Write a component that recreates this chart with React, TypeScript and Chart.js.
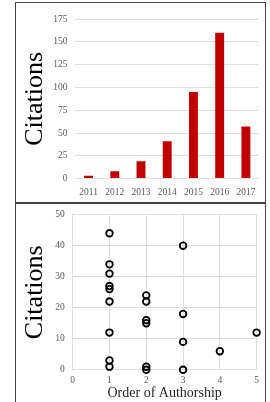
import React, { useEffect, useRef } from "react";
import { Chart, registerables } from "chart.js";

Chart.register(...registerables);

const years = ["2011", "2012", "2013", "2014", "2015", "2016", "2017"];
const citationsByYear = [3, 8, 19, 41, 95, 160, 57];

const authorOrder = [1, 1, 1, 1, 1, 1, 1, 1, 1, 2, 2, 2, 2, 2, 2, 3, 3, 3, 3, 4, 5];
const paperCitations = [44, 34, 31, 27, 26, 22, 12, 3, 1, 24, 22, 16, 15, 1, 0, 40, 18, 9, 0, 6, 12];

const serif = "'Liberation Serif', 'Times New Roman', serif";
const tickColor = "#595959";
const gridColor = "#dedede";

function BarChart() {
  const ref = useRef<HTMLCanvasElement>(null);
  useEffect(() => {
    const chart = new Chart(ref.current!, {
      type: "bar",
      data: {
        labels: years,
        datasets: [
          {
            data: citationsByYear,
            backgroundColor: "#C00000",
            categoryPercentage: 1,
            barPercentage: 0.34,
          },
        ],
      },
      options: {
        responsive: false,
        animation: false,
        layout: { padding: { top: 16, right: 5, bottom: -4, left: 0 } },
        plugins: { legend: { display: false }, tooltip: { enabled: false } },
        scales: {
          x: {
            grid: { display: false, drawTicks: false },
            border: { display: false },
            ticks: {
              color: tickColor,
              font: { family: serif, size: 9.5 },
              padding: 8,
              maxRotation: 0,
              minRotation: 0,
              autoSkip: false,
            },
          },
          y: {
            min: 0,
            max: 175,
            ticks: { stepSize: 25, color: tickColor, font: { family: serif, size: 9.5 }, padding: 8 },
            grid: { color: gridColor, drawTicks: false },
            border: { display: false },
            title: {
              display: true,
              text: "Citations",
              color: "#000",
              font: { family: serif, size: 26 },
              padding: { top: 4, bottom: -6 },
            },
          },
        },
      },
    });
    return () => chart.destroy();
  }, []);
  return (
    <canvas
      ref={ref}
      width={248}
      height={199}
      style={{ position: "absolute", left: 16, top: 3, width: 248, height: 199 }}
    />
  );
}

function ScatterChart() {
  const ref = useRef<HTMLCanvasElement>(null);
  useEffect(() => {
    const points = authorOrder.map((x, i) => ({ x, y: paperCitations[i] }));
    const chart = new Chart(ref.current!, {
      type: "scatter",
      data: {
        datasets: [
          {
            data: points,
            pointRadius: 3.3,
            pointBorderWidth: 1.8,
            pointBorderColor: "#000",
            pointBackgroundColor: "rgba(0,0,0,0)",
            clip: false,
          },
        ],
      },
      options: {
        responsive: false,
        animation: false,
        layout: { padding: { top: 0, right: 7, bottom: 0, left: 0 } },
        plugins: { legend: { display: false }, tooltip: { enabled: false } },
        scales: {
          x: {
            type: "linear",
            min: 0,
            max: 5,
            ticks: { stepSize: 1, color: tickColor, font: { family: serif, size: 9.5 }, padding: 5 },
            grid: { color: gridColor, drawTicks: false },
            border: { color: gridColor },
            title: {
              display: true,
              text: "Order of Authorship",
              color: "#262626",
              font: { family: serif, size: 14 },
              padding: { top: -6, bottom: 0 },
            },
          },
          y: {
            min: 0,
            max: 50,
            ticks: { stepSize: 10, color: tickColor, font: { family: serif, size: 9.5 }, padding: 8 },
            grid: { color: gridColor, drawTicks: false },
            border: { color: gridColor },
            title: {
              display: true,
              text: "Citations",
              color: "#000",
              font: { family: serif, size: 26 },
              padding: { top: 4, bottom: -4 },
            },
          },
        },
      },
    });
    return () => chart.destroy();
  }, []);
  return (
    <canvas
      ref={ref}
      width={248}
      height={201}
      style={{ position: "absolute", left: 16, top: 201, width: 248, height: 201 }}
    />
  );
}

export default function App() {
  return (
    <div>
      <div
        style={{
          position: "absolute",
          left: 15,
          top: 2,
          width: 251,
          height: 201,
          border: "1px solid #444",
          boxSizing: "border-box",
          background: "#fff",
        }}
      />
      <div
        style={{
          position: "absolute",
          left: 15,
          top: 203,
          width: 251,
          height: 230,
          border: "1px solid #444",
          boxSizing: "border-box",
          background: "#fff",
        }}
      />
      <BarChart />
      <ScatterChart />
    </div>
  );
}
